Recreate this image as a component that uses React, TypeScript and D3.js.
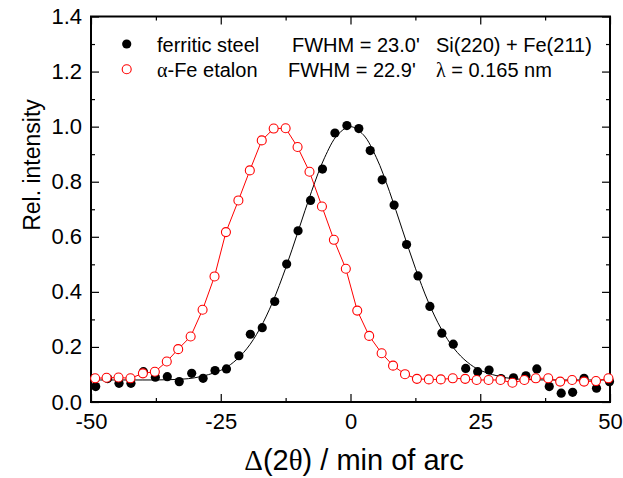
import React, { useEffect, useRef } from 'react';
import * as d3 from 'd3';

// alpha-Fe etalon (open red circles)
const etalonX = [-49.2, -47.0, -44.7, -42.4, -40.0, -37.7, -35.4, -33.2, -30.8, -28.5, -26.2, -24.0, -21.6, -19.4, -17.1, -14.8, -12.5, -10.2, -7.9, -5.5, -3.2, -0.9, 1.3, 3.6, 6.0, 8.2, 10.5, 12.8, 15.1, 17.4, 19.7, 22.1, 24.3, 26.6, 28.9, 31.2, 33.5, 35.7, 38.1, 40.4, 42.7, 45.0, 47.3, 49.7];
const etalonY = [0.086, 0.088, 0.089, 0.086, 0.104, 0.110, 0.147, 0.192, 0.238, 0.335, 0.456, 0.617, 0.732, 0.841, 0.950, 0.993, 0.994, 0.926, 0.836, 0.710, 0.589, 0.484, 0.332, 0.240, 0.177, 0.132, 0.101, 0.084, 0.082, 0.082, 0.086, 0.084, 0.080, 0.080, 0.080, 0.070, 0.080, 0.086, 0.086, 0.074, 0.080, 0.074, 0.076, 0.086];

// ferritic steel (filled black dots)
const steelX = [-49.1, -46.8, -44.6, -42.3, -39.9, -37.6, -35.3, -33.0, -30.6, -28.4, -26.1, -23.9, -21.5, -19.3, -17.0, -14.6, -12.3, -10.1, -7.7, -5.4, -3.0, -0.7, 1.6, 3.8, 6.1, 8.4, 10.8, 13.0, 15.3, 17.6, 19.8, 22.2, 24.5, 26.7, 29.0, 31.4, 33.8, 35.9, 38.3, 40.6, 42.8, 45.0, 47.4, 49.9];
const steelY = [0.056, 0.085, 0.068, 0.068, 0.110, 0.090, 0.092, 0.074, 0.104, 0.086, 0.114, 0.120, 0.168, 0.246, 0.270, 0.365, 0.501, 0.622, 0.732, 0.846, 0.977, 1.004, 0.993, 0.913, 0.807, 0.715, 0.572, 0.458, 0.347, 0.250, 0.210, 0.122, 0.110, 0.116, 0.085, 0.088, 0.095, 0.120, 0.056, 0.032, 0.035, 0.086, 0.050, 0.074];

// fitted curve for the steel profile
const fitX = [-50, -45, -40, -35, -30, -25, -22.5, -20, -17.5, -15, -12.5, -10, -7.5, -5, -2.5, 0, 2.5, 5, 7.5, 10, 12.5, 15, 17.5, 20, 22.5, 25, 30, 35, 40, 45, 50];
const fitY = [0.080, 0.080, 0.080, 0.081, 0.088, 0.115, 0.145, 0.193, 0.265, 0.363, 0.486, 0.625, 0.765, 0.887, 0.970, 1.000, 0.970, 0.887, 0.765, 0.625, 0.486, 0.363, 0.265, 0.193, 0.145, 0.115, 0.088, 0.081, 0.080, 0.080, 0.080];

const xMajor = [-50, -25, 0, 25, 50];
const xMinor = [-37.5, -12.5, 12.5, 37.5];
const yMajor = [0, 0.2, 0.4, 0.6, 0.8, 1.0, 1.2, 1.4];
const yMinor = [0.1, 0.3, 0.5, 0.7, 0.9, 1.1, 1.3];

const SANS = '"Liberation Sans", Arial, sans-serif';
const SERIF = '"Liberation Serif", "Times New Roman", serif';

export default function App() {
  const svgRef = useRef<SVGSVGElement>(null);

  useEffect(() => {
    if (!svgRef.current) return;
    const width = 623;
    const height = 478;
    const margin = { top: 16.5, right: 13, bottom: 76, left: 91 };

    const svg = d3.select(svgRef.current);
    svg.selectAll('*').remove();
    svg.attr('width', width).attr('height', height).style('background', '#fff');

    const x = d3.scaleLinear().domain([-50, 50]).range([margin.left, width - margin.right]);
    const y = d3.scaleLinear().domain([0, 1.4]).range([height - margin.bottom, margin.top]);

    const g = svg.append('g');

    // ticks, all pointing inward, on all four sides
    const major = 8;
    const minor = 4;
    const tickStyle = (sel: any) => {
      sel.select('.domain').remove();
      sel.selectAll('.tick line').attr('stroke', '#000').attr('stroke-width', 1.2);
    };
    const bottom = g.append('g').attr('transform', `translate(0,${y(0)})`)
      .call(d3.axisBottom(x).tickValues(xMajor).tickSize(-major).tickPadding(11).tickFormat(d => String(d)));
    bottom.call(tickStyle);
    bottom.selectAll('text').attr('font-family', SANS).attr('font-size', 22).attr('fill', '#000');
    g.append('g').attr('transform', `translate(0,${y(0)})`)
      .call(d3.axisBottom(x).tickValues(xMinor).tickSize(-minor).tickFormat(() => ''))
      .call(tickStyle);
    g.append('g').attr('transform', `translate(0,${y(1.4)})`)
      .call(d3.axisTop(x).tickValues(xMajor).tickSize(-major).tickFormat(() => ''))
      .call(tickStyle);
    g.append('g').attr('transform', `translate(0,${y(1.4)})`)
      .call(d3.axisTop(x).tickValues(xMinor).tickSize(-minor).tickFormat(() => ''))
      .call(tickStyle);

    const left = g.append('g').attr('transform', `translate(${x(-50)},0)`)
      .call(d3.axisLeft(y).tickValues(yMajor).tickSize(-major).tickPadding(9).tickFormat(d => (+d).toFixed(1)));
    left.call(tickStyle);
    left.selectAll('text').attr('font-family', SANS).attr('font-size', 22).attr('fill', '#000');
    g.append('g').attr('transform', `translate(${x(-50)},0)`)
      .call(d3.axisLeft(y).tickValues(yMinor).tickSize(-minor).tickFormat(() => ''))
      .call(tickStyle);
    g.append('g').attr('transform', `translate(${x(50)},0)`)
      .call(d3.axisRight(y).tickValues(yMajor).tickSize(-major).tickFormat(() => ''))
      .call(tickStyle);
    g.append('g').attr('transform', `translate(${x(50)},0)`)
      .call(d3.axisRight(y).tickValues(yMinor).tickSize(-minor).tickFormat(() => ''))
      .call(tickStyle);

    // frame
    g.append('rect')
      .attr('x', x(-50)).attr('y', y(1.4))
      .attr('width', x(50) - x(-50)).attr('height', y(0) - y(1.4))
      .attr('fill', 'none').attr('stroke', '#000').attr('stroke-width', 2);

    // steel: fit line + dots
    const fit = fitX.map((v, i) => [v, fitY[i]] as [number, number]);
    g.append('path')
      .attr('d', d3.line<[number, number]>().x(d => x(d[0])).y(d => y(d[1])).curve(d3.curveCatmullRom)(fit))
      .attr('fill', 'none').attr('stroke', '#000').attr('stroke-width', 1);
    g.append('g').selectAll('circle')
      .data(steelX.map((v, i) => [v, steelY[i]]))
      .join('circle')
      .attr('cx', d => x(d[0])).attr('cy', d => y(d[1])).attr('r', 4.6)
      .attr('fill', '#000');

    // etalon: line + open circles
    const et = etalonX.map((v, i) => [v, etalonY[i]] as [number, number]);
    g.append('path')
      .attr('d', d3.line<[number, number]>().x(d => x(d[0])).y(d => y(d[1]))(et))
      .attr('fill', 'none').attr('stroke', '#ff0000').attr('stroke-width', 1);
    g.append('g').selectAll('circle')
      .data(et)
      .join('circle')
      .attr('cx', d => x(d[0])).attr('cy', d => y(d[1])).attr('r', 4.5)
      .attr('fill', '#fff').attr('stroke', '#ff0000').attr('stroke-width', 1.1);

    // legend
    const lg = svg.append('g').attr('font-family', SANS).attr('font-size', 20).attr('fill', '#000');
    lg.append('circle').attr('cx', 126.7).attr('cy', 44).attr('r', 4.6).attr('fill', '#000');
    lg.append('circle').attr('cx', 126.7).attr('cy', 69.3).attr('r', 4.5)
      .attr('fill', '#fff').attr('stroke', '#ff0000').attr('stroke-width', 1.1);
    lg.append('text').attr('x', 157).attr('y', 52).text('ferritic steel');
    lg.append('text').attr('x', 292).attr('y', 52).text("FWHM = 23.0'");
    lg.append('text').attr('x', 436).attr('y', 52).text('Si(220) + Fe(211)');
    const t2 = lg.append('text').attr('x', 157).attr('y', 76.5);
    t2.append('tspan').attr('font-family', SERIF).text('α');
    t2.append('tspan').text('-Fe etalon');
    lg.append('text').attr('x', 288).attr('y', 76.5).text("FWHM = 22.9'");
    const t3 = lg.append('text').attr('x', 436).attr('y', 76.5);
    t3.append('tspan').attr('font-family', SERIF).text('λ');
    t3.append('tspan').text(' = 0.165 nm');

    // axis titles
    const xt = svg.append('text')
      .attr('x', 354).attr('y', 470)
      .attr('text-anchor', 'middle')
      .attr('font-family', SANS).attr('font-size', 29).attr('fill', '#000');
    xt.append('tspan').attr('font-family', SERIF).text('Δ');
    xt.append('tspan').text('(2');
    xt.append('tspan').attr('font-family', SERIF).text('θ');
    xt.append('tspan').text(') / min of arc');

    svg.append('text')
      .attr('transform', 'translate(40,165) rotate(-90)')
      .attr('text-anchor', 'middle')
      .attr('font-family', SANS).attr('font-size', 23).attr('fill', '#000')
      .text('Rel. intensity');
  }, []);

  return (
    <div style={{ position: 'absolute', left: 0, top: 0, width: 623, height: 478 }}>
      <svg ref={svgRef} style={{ display: 'block' }}></svg>
    </div>
  );
}
